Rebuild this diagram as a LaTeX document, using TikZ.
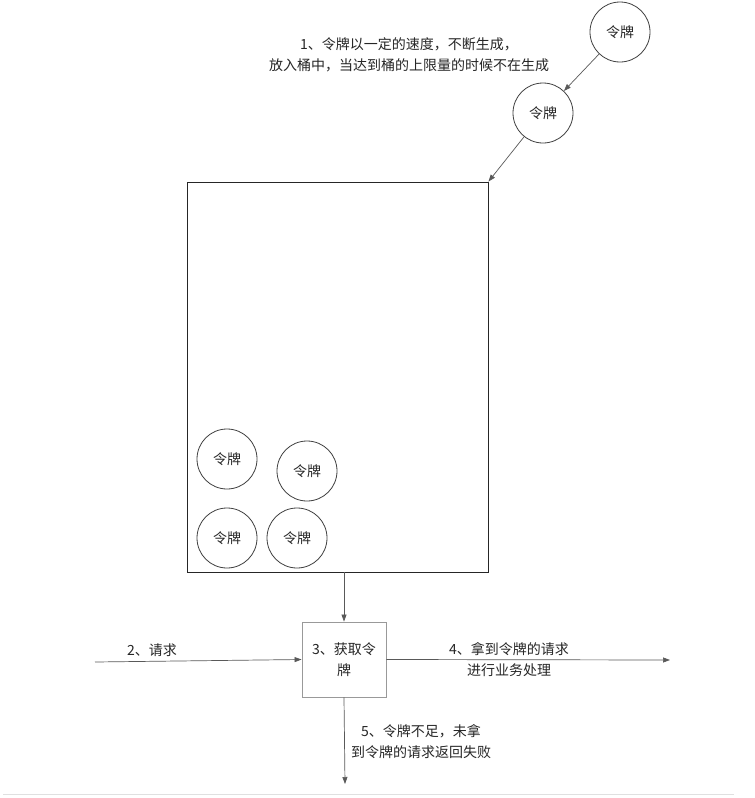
\documentclass[tikz,border=0pt]{standalone}
\usepackage{fontspec}
\newfontfamily\cjk{Noto Sans CJK SC}
\usetikzlibrary{arrows.meta}
\begin{document}
\begin{tikzpicture}[x=1pt,y=-1pt,
  every node/.style={font=\cjk\fontsize{14}{21}\selectfont, text=black!85},
  token/.style={draw=black!75, line width=0.8pt, circle, minimum size=60pt, inner sep=0pt},
  bucketbox/.style={draw=black!85, line width=0.9pt, rectangle, minimum width=301pt, minimum height=390pt, inner sep=0pt},
  procbox/.style={draw=black!40, line width=0.9pt, rectangle, minimum width=84pt, minimum height=75pt, inner sep=0pt, align=center},
  conn/.style={draw=black!65, line width=0.7pt, -{Triangle[length=7pt,width=5pt]}},
  lbl/.style={align=center, inner sep=0pt}
]
\useasboundingbox (0,0) rectangle (755,798);
\fill[white] (0,0) rectangle (755,798);
% tokens generated
\node[token] (g0) at (620,32) {令牌};
\node[token] (g1) at (543,113) {令牌};
% bucket
\node[bucketbox] (bucket) at (337.5,377) {};
\node[token] (b1) at (227,459) {令牌};
\node[token] (b2) at (307,471) {令牌};
\node[token] (b3) at (227,538) {令牌};
\node[token] (b4) at (297,538) {令牌};
% process box
\node[procbox] (sb) at (344,659.5) {3、获取令\\牌};
% free ends
\coordinate (a2) at (95,662);
\coordinate (a4) at (670,660);
\coordinate (a5) at (345,784);
% connectors
\draw[conn] (g0) -- (g1);
\draw[conn] (g1) -- (bucket.north east);
\draw[conn] (sb.north |- bucket.south) -- (sb.north);
\draw[conn] (a2) -- (sb.west);
\draw[conn] (sb.east) -- (a4);
\draw[conn] (sb.south) -- (a5);
% labels
\node[lbl] (t1) at (409,55) {1、令牌以一定的速度，不断生成，\\放入桶中，当达到桶的上限量的时候不在生成};
\node[lbl] (t2) at (152,650) {2、请求};
\node[lbl] (t4) at (509,660) {4、拿到令牌的请求\\进行业务处理};
\node[lbl] (t5) at (421,742) {5、令牌不足，未拿\\到令牌的请求返回失败};
% bottom separator
\draw[black!12, line width=1.5pt] (3,794.5) -- (734,794.5);
\end{tikzpicture}
\end{document}
